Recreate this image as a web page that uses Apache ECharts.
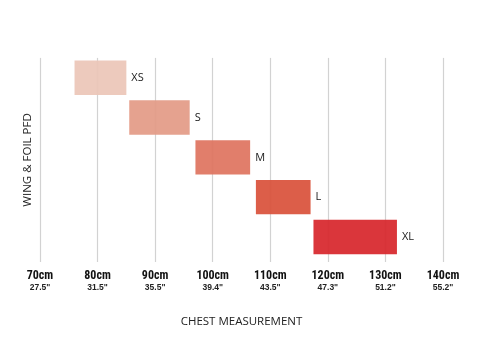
<!DOCTYPE html>
<html><head><meta charset="utf-8">
<script src="https://cdn.jsdelivr.net/npm/echarts@6/dist/echarts.min.js"></script>
<style>html,body{margin:0;padding:0;background:#fff}#c{width:480px;height:355px}</style>
</head><body><div id="c"></div>
<script>
var sizes = ['XS', 'S', 'M', 'L', 'XL'];
var startCm = [76, 85.5, 97, 107.5, 117.5];
var endCm = [85, 96, 106.5, 117, 132];
var colors = ['#ecc6b7', '#e39a85', '#de735e', '#d9503a', '#d7252a'];
var tickCm = [70, 80, 90, 100, 110, 120, 130, 140];
var tickInch = ['27.5"', '31.5"', '35.5"', '39.4"', '43.5"', '47.3"', '51.2"', '55.2"'];

var data = sizes.map(function (s, i) { return [startCm[i], endCm[i], i, s]; });

var chart = echarts.init(document.getElementById('c'));
chart.setOption({
  animation: false,
  grid: { left: 40, right: 37, top: 57.9, bottom: 93 },
  xAxis: {
    type: 'value', min: 70, max: 140, interval: 10,
    axisLine: { show: false },
    axisTick: { show: false },
    splitLine: { show: true, lineStyle: { color: '#d2d2d2', width: 1.2 } },
    axisLabel: {
      margin: 8,
      formatter: function (v) {
        var i = tickCm.indexOf(v);
        return '{a|' + v + 'cm}\n{b|' + tickInch[i] + '}';
      },
      rich: {
        a: { fontFamily: '"Liberation Sans Narrow", "Roboto Condensed", "Liberation Sans", sans-serif', fontWeight: 'bold', fontSize: 12, color: '#111', lineHeight: 12 },
        b: { fontFamily: '"Liberation Sans Narrow", "Liberation Sans", sans-serif', fontWeight: 'bold', fontSize: 8.5, color: '#222', lineHeight: 11 }
      }
    },
    name: 'CHEST MEASUREMENT', nameLocation: 'middle', nameGap: 54,
    nameTextStyle: { fontFamily: '"Open Sans", sans-serif', fontSize: 11.5, color: '#222' }
  },
  yAxis: {
    type: 'value', inverse: true, min: -0.5, max: 4.63,
    axisLine: { show: false }, axisTick: { show: false }, axisLabel: { show: false },
    splitLine: { show: false },
    name: 'WING & FOIL PFD', nameLocation: 'middle', nameGap: 6, nameRotate: 90,
    nameTextStyle: { fontFamily: '"Open Sans", sans-serif', fontSize: 11.5, color: '#222' }
  },
  series: [{
    type: 'custom',
    encode: { x: [0, 1], y: 2 },
    data: data,
    renderItem: function (params, api) {
      var s = api.coord([api.value(0), api.value(2)]);
      var e = api.coord([api.value(1), api.value(2)]);
      var band = api.size([0, 1])[1];
      var h = band * 0.865;
      var idx = api.value(2);
      return {
        type: 'group',
        children: [{
          type: 'rect',
          shape: { x: s[0], y: s[1] - h / 2, width: e[0] - s[0], height: h },
          style: { fill: colors[idx], opacity: 0.92 }
        }, {
          type: 'text',
          x: e[0] + 5, y: s[1],
          style: {
            text: sizes[idx], fill: '#1a1a1a', fontSize: 11,
            fontFamily: '"Open Sans", sans-serif', verticalAlign: 'middle', align: 'left'
          }
        }]
      };
    }
  }]
});
</script></body></html>
